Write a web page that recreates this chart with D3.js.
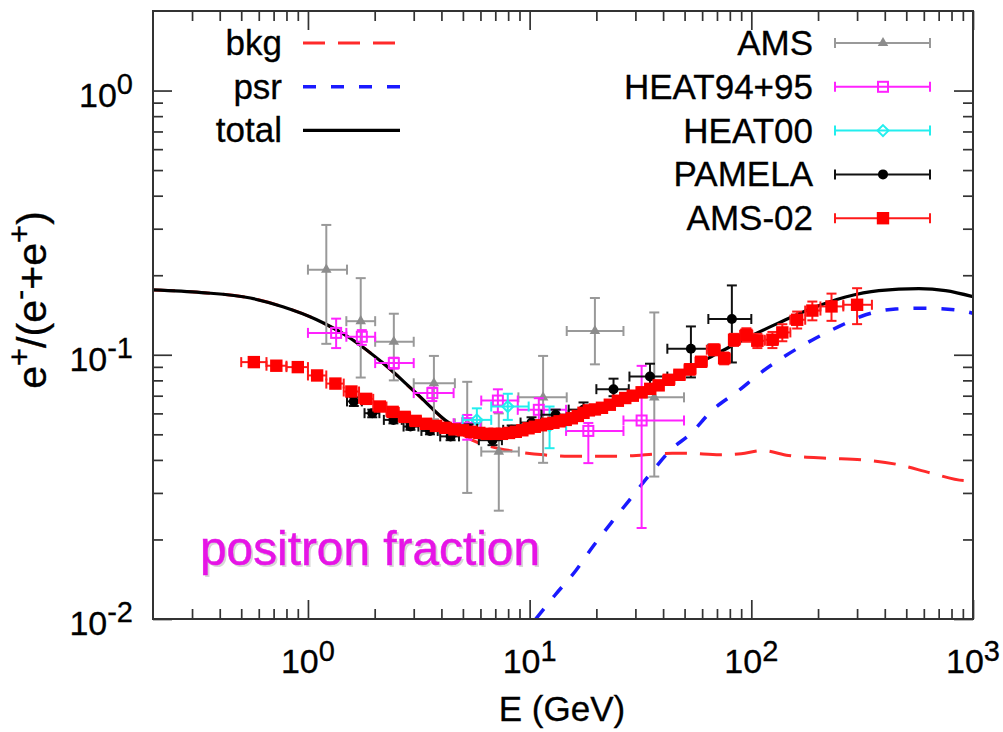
<!DOCTYPE html>
<html>
<head>
<meta charset="utf-8">
<script src="https://cdn.jsdelivr.net/npm/d3@7"></script>
<style>
  body { margin: 0; background: #fff; }
  svg { font-family: "Liberation Sans", Arial, Helvetica, sans-serif; }
  text.lbl { stroke: #000; stroke-width: 0.3px; }
</style>
</head>
<body>
<div id="chart-area"></div>
<script>

// ---- data ----
// curves: [E (GeV), fraction]
var bkgCurve = [
    [0.2, 0.176], [0.33, 0.172], [0.55, 0.164], [0.77, 0.152], [1.09, 0.136],
    [1.54, 0.116], [2.18, 0.093], [3.08, 0.0714], [4.35, 0.0545], [5.5, 0.0475],
    [6.4, 0.0454], [8.7, 0.043], [11.6, 0.0418], [15, 0.0413], [25, 0.0413],
    [44, 0.0424], [51, 0.0424], [72, 0.0418], [90, 0.0422], [112, 0.0434],
    [147, 0.0416], [219, 0.0406], [312, 0.0401], [453, 0.0385], [652, 0.0356],
    [909, 0.0334], [1000, 0.0333]
];
var psrCurve = [
    [10.65, 0.0100], [13.0, 0.0123], [16.2, 0.0153], [19.3, 0.0188], [23.6, 0.0234],
    [28.2, 0.0282], [34.7, 0.0351], [44.1, 0.0443], [52.5, 0.0497], [67, 0.0619],
    [86.6, 0.0726], [112, 0.0864], [145, 0.100], [188.5, 0.1138], [249, 0.128],
    [328, 0.1417], [448, 0.149], [611, 0.150], [834, 0.148], [1000, 0.1436]
];
var totalCurve = [
    [0.2, 0.176], [0.33, 0.172], [0.55, 0.164], [0.77, 0.152], [1.09, 0.136],
    [1.54, 0.116], [2.18, 0.093], [3.08, 0.0716], [4.35, 0.0551], [5.5, 0.050],
    [7.0, 0.0485], [10, 0.052], [20, 0.062], [30, 0.0705], [50, 0.087],
    [70, 0.101], [100, 0.118], [133, 0.132], [188, 0.150], [266, 0.1655],
    [376, 0.175], [570, 0.178], [752, 0.175], [1000, 0.166]
];

// points: [E, Elo, Ehi, value, valueLo, valueHi]
var amsData = [
    [1.21, 1.0, 1.5, 0.21, 0.11, 0.31],
    [1.73, 1.49, 2.01, 0.134, 0.082, 0.195],
    [2.44, 2.01, 3.0, 0.112, 0.080, 0.143],
    [3.70, 3.0, 4.6, 0.078, 0.057, 0.099],
    [5.23, 4.6, 6.05, 0.055, 0.030, 0.079],
    [7.26, 6.05, 8.94, 0.043, 0.0257, 0.060],
    [11.5, 8.9, 14.7, 0.069, 0.039, 0.099],
    [19.7, 14.7, 26.5, 0.123, 0.092, 0.164],
    [36.5, 26.5, 49.7, 0.069, 0.0346, 0.1446]
];
var heat9495Data = [
    [1.34, 1.0, 1.49, 0.121, 0.106, 0.137],
    [1.75, 1.49, 2.01, 0.117, 0.109, 0.124],
    [2.44, 2.01, 3.0, 0.093, 0.0886, 0.0975],
    [3.64, 3.0, 4.54, 0.0716, 0.0668, 0.0751],
    [5.23, 4.54, 6.0, 0.0551, 0.0477, 0.0592],
    [7.19, 6.05, 8.84, 0.0671, 0.0606, 0.0740],
    [11.0, 8.84, 14.6, 0.0619, 0.0560, 0.0685],
    [18.4, 14.6, 26.5, 0.0515, 0.0389, 0.0552],
    [32.0, 26.5, 49.7, 0.0564, 0.0221, 0.0908]
];
var heat00Data = [
    [5.78, 4.99, 6.71, 0.0567, 0.051, 0.0627],
    [7.97, 6.71, 9.9, 0.0637, 0.0567, 0.0712],
    [12.3, 9.9, 14.6, 0.054, 0.0443, 0.0637]
];
var pamelaData = [
    [1.61, 1.5, 1.75, 0.0666, 0.064, 0.069],
    [1.95, 1.8, 2.1, 0.0601, 0.058, 0.062],
    [2.43, 2.2, 2.65, 0.0567, 0.055, 0.058],
    [2.90, 2.7, 3.15, 0.0535, 0.052, 0.055],
    [3.55, 3.25, 3.85, 0.0515, 0.050, 0.053],
    [4.4, 3.95, 4.8, 0.0491, 0.0475, 0.0507],
    [5.3, 4.85, 5.8, 0.0525, 0.0505, 0.0545],
    [6.8, 5.9, 7.5, 0.0475, 0.0455, 0.0495],
    [8.3, 7.6, 9.1, 0.052, 0.050, 0.054],
    [10.2, 9.1, 11.3, 0.0554, 0.053, 0.058],
    [13.1, 11.3, 15.0, 0.0593, 0.0565, 0.062],
    [17.5, 15.0, 20.0, 0.062, 0.058, 0.066],
    [23.9, 20.0, 28.0, 0.0741, 0.0697, 0.0812],
    [34.9, 28.2, 41.8, 0.0827, 0.0738, 0.0925],
    [53.4, 41.8, 64, 0.1054, 0.0821, 0.128],
    [81.7, 64, 100, 0.1366, 0.0935, 0.183]
];
// AMS-02: [E, Elo, Ehi, value, error]
var ams02Data = [
    [0.57, 0.50, 0.65, 0.0938, 0.002], [0.72, 0.65, 0.80, 0.0909, 0.002],
    [0.90, 0.80, 1.00, 0.0898, 0.002], [1.10, 1.00, 1.21, 0.0835, 0.002],
    [1.33, 1.21, 1.45, 0.0778, 0.002], [1.57, 1.45, 1.70, 0.0726, 0.002],
    [1.83, 1.70, 1.97, 0.0681, 0.002], [2.11, 1.97, 2.26, 0.0637, 0.002],
    [2.41, 2.26, 2.57, 0.0608, 0.002], [2.73, 2.57, 2.89, 0.0582, 0.002],
    [3.06, 2.89, 3.23, 0.0562, 0.002], [3.41, 3.23, 3.59, 0.0548, 0.002],
    [3.78, 3.59, 3.97, 0.0538, 0.002], [4.17, 3.97, 4.37, 0.0529, 0.002],
    [4.58, 4.37, 4.79, 0.0522, 0.002], [5.01, 4.79, 5.23, 0.0518, 0.002],
    [5.46, 5.23, 5.69, 0.0511, 0.002], [5.93, 5.69, 6.18, 0.0506, 0.002],
    [6.43, 6.18, 6.69, 0.0502, 0.002], [6.95, 6.69, 7.22, 0.0502, 0.002],
    [7.50, 7.22, 7.78, 0.0502, 0.002], [8.07, 7.78, 8.36, 0.0506, 0.002],
    [8.66, 8.36, 8.96, 0.0511, 0.002], [9.27, 8.96, 9.58, 0.0518, 0.002],
    [9.89, 9.58, 10.2, 0.0527, 0.002], [10.55, 10.2, 10.9, 0.0534, 0.002],
    [11.25, 10.9, 11.6, 0.0541, 0.002], [12.0, 11.6, 12.4, 0.0548, 0.002],
    [12.8, 12.4, 13.2, 0.0553, 0.002], [13.65, 13.2, 14.1, 0.0560, 0.002],
    [14.55, 14.1, 15.0, 0.0567, 0.002], [15.5, 15.0, 16.0, 0.0575, 0.002],
    [16.5, 16.0, 17.0, 0.0587, 0.002], [17.5, 17.0, 18.0, 0.0603, 0.002],
    [18.5, 18.0, 19.0, 0.0616, 0.002], [19.7, 19.0, 20.4, 0.0621, 0.002],
    [21.2, 20.4, 22.0, 0.0630, 0.002], [23.0, 22.0, 24.0, 0.0647, 0.002],
    [25.0, 24.0, 26.0, 0.0670, 0.0025], [27.0, 26.0, 28.0, 0.0686, 0.0025],
    [29.2, 28.0, 30.5, 0.0700, 0.0025], [32.0, 30.5, 33.5, 0.0721, 0.003],
    [35.0, 33.5, 36.5, 0.0743, 0.003], [38.2, 36.5, 40.0, 0.0766, 0.003],
    [42.4, 40.0, 45.0, 0.0804, 0.003], [47.4, 45.0, 50.0, 0.0840, 0.0035],
    [52.9, 50.0, 56.0, 0.0881, 0.004], [59.4, 56.0, 63.0, 0.0941, 0.004],
    [68.0, 63.0, 72.0, 0.1045, 0.005], [75.4, 72.0, 80.0, 0.0970, 0.005],
    [83.6, 80.0, 89.0, 0.1140, 0.006], [95.0, 89.0, 101, 0.1190, 0.007],
    [106.5, 101, 115, 0.1130, 0.007], [124.5, 115, 132, 0.1140, 0.008],
    [138, 132, 150, 0.1215, 0.009], [161, 150, 175, 0.1357, 0.010],
    [188.5, 175, 205, 0.1470, 0.012], [230, 205, 260, 0.1524, 0.018],
    [300, 260, 350, 0.1546, 0.024]
];

var xTickValues = [1, 10, 100, 1000];
var xTickLabels = ["0", "1", "2", "3"];
var yTickValues = [0.01, 0.1, 1];
var yTickLabels = ["-2", "-1", "0"];

// ---- layout ----
var margin = { left: 153, top: 11, right: 30, bottom: 113 };
var width = 1003 - margin.left - margin.right;
var height = 732 - margin.top - margin.bottom;

var svg = d3.select("#chart-area")
    .append("svg")
    .attr("width", 1003)
    .attr("height", 732);

var g = svg.append("g")
    .attr("transform", "translate(" + margin.left + "," + margin.top + ")");

var x = d3.scaleLog().domain([0.2, 1000]).range([0, width]);
var y = d3.scaleLog().domain([0.01, 2]).range([height, 0]);

// minor ticks 2..9 of every decade inside the domain
function minors(domain) {
    var out = [];
    for (var p = -3; p <= 3; p++) {
        for (var m = 2; m <= 9; m++) {
            var v = m * Math.pow(10, p);
            if (v > domain[0] * 1.0001 && v < domain[1] * 0.9999) out.push(v);
        }
    }
    return out;
}
var xMinor = minors(x.domain());
var yMinor = minors(y.domain());

function makeAxis(i) {
    return i === 0 ? d3.axisBottom(x) : i === 1 ? d3.axisTop(x) : i === 2 ? d3.axisLeft(y) : d3.axisRight(y);
}
var axisPos = ["translate(0," + height + ")", "translate(0,0)", "translate(0,0)", "translate(" + width + ",0)"];
axisPos.forEach(function (pos, i) {
    var isX = i < 2;
    g.append("g").attr("transform", pos)
        .call(makeAxis(i).tickValues(isX ? xTickValues : yTickValues).tickSize(-19).tickFormat(""));
    g.append("g").attr("transform", pos)
        .call(makeAxis(i).tickValues(isX ? xMinor : yMinor).tickSize(-10).tickFormat(""));
});
g.selectAll(".domain").remove();
g.selectAll(".tick line").attr("stroke", "#333").attr("stroke-width", 1.7);

// clip
svg.append("defs").append("clipPath").attr("id", "plotclip")
    .append("rect").attr("width", width).attr("height", height);
var plot = g.append("g").attr("clip-path", "url(#plotclip)");

// curves
var line = d3.line()
    .x(function (d) { return x(d[0]); })
    .y(function (d) { return y(d[1]); })
    .curve(d3.curveMonotoneX);

plot.append("path").datum(bkgCurve).attr("d", line)
    .attr("fill", "none").attr("stroke", "#ff2a2a").attr("stroke-width", 3)
    .attr("stroke-dasharray", "22,13");
plot.append("path").datum(psrCurve).attr("d", line)
    .attr("fill", "none").attr("stroke", "#1a1aff").attr("stroke-width", 3.5)
    .attr("stroke-dasharray", "13,15");
plot.append("path").datum(totalCurve).attr("d", line)
    .attr("fill", "none").attr("stroke", "#000").attr("stroke-width", 3.2);

// error bars + markers
function drawSeries(data, color, cap, markerFn, symmetric) {
    var s = plot.append("g").attr("stroke", color).attr("stroke-width", 2).attr("fill", "none");
    data.forEach(function (d) {
        var cx = x(d[0]), cy = y(d[3]);
        var lo = symmetric ? d[3] - d[4] : d[4];
        var hi = symmetric ? d[3] + d[4] : d[5];
        var x0 = x(d[1]), x1 = x(d[2]), y0 = y(lo), y1 = y(hi);
        s.append("line").attr("x1", x0).attr("x2", x1).attr("y1", cy).attr("y2", cy);
        s.append("line").attr("x1", x0).attr("x2", x0).attr("y1", cy - cap).attr("y2", cy + cap);
        s.append("line").attr("x1", x1).attr("x2", x1).attr("y1", cy - cap).attr("y2", cy + cap);
        s.append("line").attr("x1", cx).attr("x2", cx).attr("y1", y0).attr("y2", y1);
        s.append("line").attr("x1", cx - cap).attr("x2", cx + cap).attr("y1", y0).attr("y2", y0);
        s.append("line").attr("x1", cx - cap).attr("x2", cx + cap).attr("y1", y1).attr("y2", y1);
    });
    data.forEach(function (d) { markerFn(s, x(d[0]), y(d[3])); });
}

function triMarker(sel, cx, cy) {
    sel.append("path").attr("d", d3.symbol().type(d3.symbolTriangle).size(48)())
        .attr("transform", "translate(" + cx + "," + cy + ")")
        .attr("fill", "#8c8c8c").attr("stroke", "none");
}
function openSquare(sel, cx, cy) {
    sel.append("rect").attr("x", cx - 5).attr("y", cy - 5).attr("width", 10).attr("height", 10)
        .attr("fill", "none").attr("stroke-width", 2);
}
function openDiamond(sel, cx, cy) {
    sel.append("path").attr("d", "M0,-5.5L5.5,0L0,5.5L-5.5,0Z")
        .attr("transform", "translate(" + cx + "," + cy + ")")
        .attr("fill", "none").attr("stroke-width", 2);
}
function dotMarker(sel, cx, cy) {
    sel.append("circle").attr("cx", cx).attr("cy", cy).attr("r", 5)
        .attr("fill", "#000").attr("stroke", "none");
}
function filledSquare(sel, cx, cy) {
    sel.append("rect").attr("x", cx - 6.2).attr("y", cy - 6.2).attr("width", 12.4).attr("height", 12.4)
        .attr("fill", "#ff0000").attr("stroke", "none");
}

drawSeries(amsData, "#999999", 5, triMarker, false);
drawSeries(heat9495Data, "#ff22ff", 5, openSquare, false);
drawSeries(heat00Data, "#22eeee", 5, openDiamond, false);
drawSeries(pamelaData, "#111111", 5, dotMarker, false);
drawSeries(ams02Data, "#ff1a1a", 5, filledSquare, true);

// frame
g.append("rect").attr("width", width).attr("height", height)
    .attr("fill", "none").attr("stroke", "#333").attr("stroke-width", 2);

// tick labels
function supLabel(sel, base, exp, sfs, rise) {
    sel.append("tspan").text(base);
    sel.append("tspan").attr("dy", -rise).attr("font-size", sfs).text(exp);
}
xTickValues.forEach(function (v, i) {
    var t = svg.append("text").attr("class", "lbl")
        .attr("x", margin.left + x(v)).attr("y", 673)
        .attr("text-anchor", "middle").attr("font-size", 34).attr("fill", "#000");
    supLabel(t, "10", xTickLabels[i], 29, 12);
});
yTickValues.forEach(function (v, i) {
    var t = svg.append("text").attr("class", "lbl")
        .attr("x", 133).attr("y", margin.top + y(v) + 16)
        .attr("text-anchor", "end").attr("font-size", 34).attr("fill", "#000");
    supLabel(t, "10", yTickLabels[i], 29, 13);
});

// axis labels
svg.append("text").attr("class", "lbl")
    .attr("x", 562).attr("y", 721)
    .attr("text-anchor", "middle").attr("font-size", 35)
    .text("E (GeV)");

var yl = svg.append("text").attr("class", "lbl")
    .attr("transform", "translate(46,300) rotate(-90)")
    .attr("text-anchor", "middle").attr("font-size", 41);
yl.append("tspan").text("e");
yl.append("tspan").attr("dy", -16).attr("font-size", 31).text("+");
yl.append("tspan").attr("dy", 16).text("/(e");
yl.append("tspan").attr("dy", -16).attr("font-size", 31).text("-");
yl.append("tspan").attr("dy", 16).text("+e");
yl.append("tspan").attr("dy", -16).attr("font-size", 31).text("+");
yl.append("tspan").attr("dy", 16).text(")");

// annotation
svg.append("text")
    .attr("x", 202).attr("y", 567)
    .attr("font-size", 49).attr("fill", "#b0b0b0").attr("opacity", 0.5)
    .attr("textLength", 340).attr("lengthAdjust", "spacingAndGlyphs")
    .text("positron fraction");
svg.append("text")
    .attr("x", 200).attr("y", 565)
    .attr("font-size", 49)
    .style("fill", "#e614e6").style("stroke", "#e614e6").style("stroke-width", "0.5px")
    .attr("textLength", 340).attr("lengthAdjust", "spacingAndGlyphs")
    .text("positron fraction");

// left key: model curves
var keyLines = [
    ["bkg", "#ff2a2a", "22,13", 3],
    ["psr", "#1a1aff", "13,15", 3.5],
    ["total", "#000", null, 3.2]
];
keyLines.forEach(function (k, i) {
    var ky = 43 + i * 43.7;
    svg.append("text").attr("class", "lbl").attr("x", 282).attr("y", ky + 12)
        .attr("text-anchor", "end").attr("font-size", 35).text(k[0]);
    var l = svg.append("line").attr("x1", 303).attr("x2", 400).attr("y1", ky).attr("y2", ky)
        .attr("stroke", k[1]).attr("stroke-width", k[3]);
    if (k[2]) l.attr("stroke-dasharray", k[2]);
});

// right key: data sets
var keyData = [
    ["AMS", "#999999", triMarker],
    ["HEAT94+95", "#ff22ff", openSquare],
    ["HEAT00", "#22eeee", openDiamond],
    ["PAMELA", "#111111", dotMarker],
    ["AMS-02", "#ff1a1a", filledSquare]
];
keyData.forEach(function (k, i) {
    var ky = 43 + i * 43.8;
    svg.append("text").attr("class", "lbl").attr("x", 813).attr("y", ky + 12)
        .attr("text-anchor", "end").attr("font-size", 35).text(k[0]);
    var s = svg.append("g").attr("stroke", k[1]).attr("stroke-width", 2).attr("fill", "none");
    s.append("line").attr("x1", 835).attr("x2", 930).attr("y1", ky).attr("y2", ky);
    s.append("line").attr("x1", 835).attr("x2", 835).attr("y1", ky - 5).attr("y2", ky + 5);
    s.append("line").attr("x1", 930).attr("x2", 930).attr("y1", ky - 5).attr("y2", ky + 5);
    k[2](s, 883, ky);
});

</script>
</body>
</html>
